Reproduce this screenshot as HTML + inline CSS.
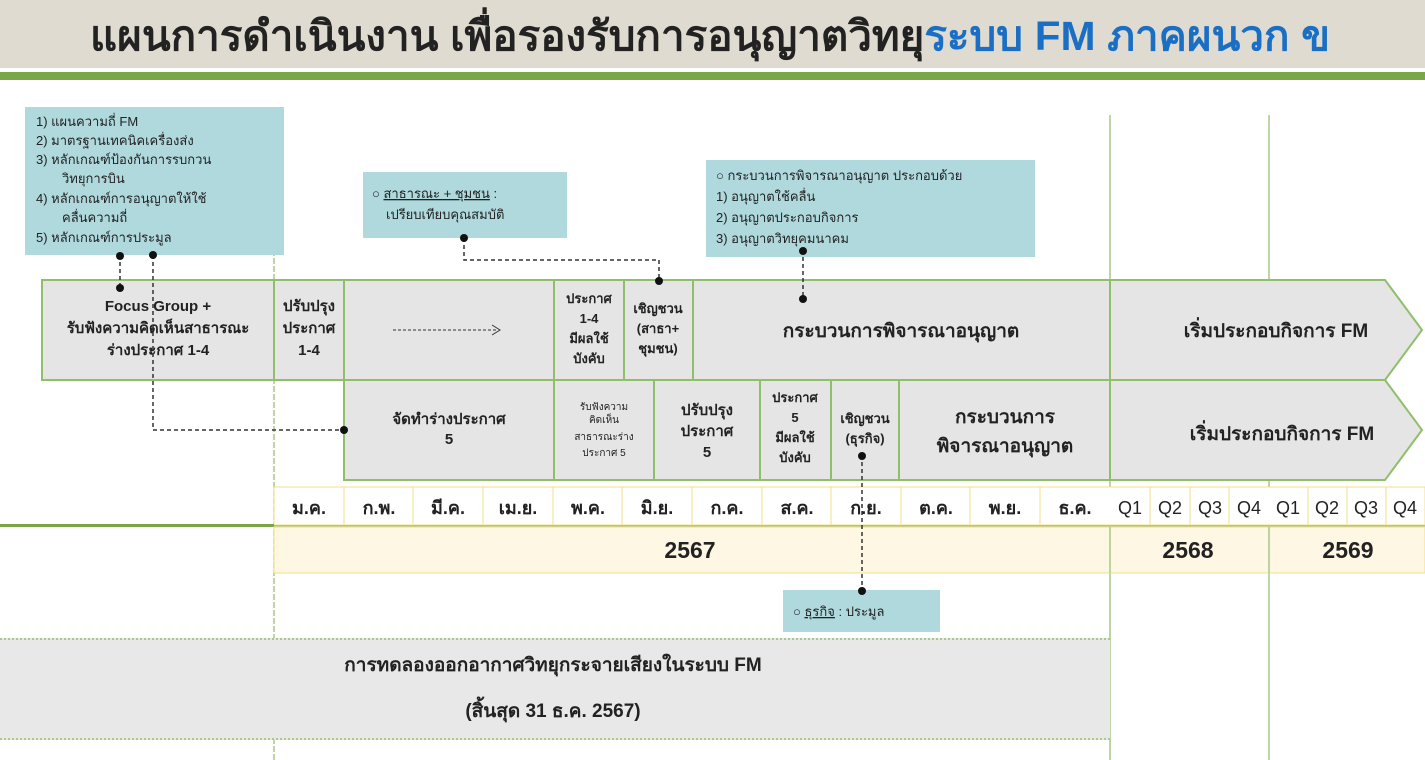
<!DOCTYPE html>
<html><head><meta charset="utf-8"><style>
html,body{margin:0;padding:0;background:#fff;width:1425px;height:760px;overflow:hidden}
svg{display:block}
text{font-family:"Liberation Sans","DejaVu Sans",sans-serif;fill:#222}
.b{font-weight:bold}
</style></head><body>
<svg width="1425" height="760" viewBox="0 0 1425 760" xmlns="http://www.w3.org/2000/svg">
<rect x="0" y="0" width="1425" height="68" fill="#dfdbd0"/>
<rect x="0" y="72" width="1425" height="8" fill="#7aa64a"/>
<text x="710" y="50" text-anchor="middle" font-size="41" style="font-weight:900" textLength="1240" lengthAdjust="spacingAndGlyphs"><tspan fill="#222">แผนการดำเนินงาน เพื่อรองรับการอนุญาตวิทยุ</tspan><tspan fill="#1a6fc4">ระบบ FM ภาคผนวก ข</tspan></text>

<!-- vertical lines -->
<line x1="274" y1="250" x2="274" y2="760" stroke="#a9c98a" stroke-width="1.5" stroke-dasharray="6,2"/>
<line x1="1110" y1="115" x2="1110" y2="760" stroke="#a9c98a" stroke-width="1.5"/>
<line x1="1269" y1="115" x2="1269" y2="760" stroke="#a9c98a" stroke-width="1.5"/>

<!-- callouts -->
<rect x="25" y="107" width="259" height="148" fill="#b0d9de"/>
<g font-size="13">
<text x="36" y="126">1)  แผนความถี่ FM</text>
<text x="36" y="145">2)  มาตรฐานเทคนิคเครื่องส่ง</text>
<text x="36" y="164">3)  หลักเกณฑ์ป้องกันการรบกวน</text>
<text x="62" y="183">วิทยุการบิน</text>
<text x="36" y="203">4)  หลักเกณฑ์การอนุญาตให้ใช้</text>
<text x="62" y="222">คลื่นความถี่</text>
<text x="36" y="242">5)  หลักเกณฑ์การประมูล</text>
</g>
<rect x="363" y="172" width="204" height="66" fill="#b0d9de"/>
<text x="372" y="198" font-size="13">○ <tspan text-decoration="underline">สาธารณะ + ชุมชน</tspan> :</text>
<text x="386" y="219" font-size="13">เปรียบเทียบคุณสมบัติ</text>
<rect x="706" y="160" width="329" height="97" fill="#b0d9de"/>
<g font-size="13">
<text x="716" y="180">○ กระบวนการพิจารณาอนุญาต ประกอบด้วย</text>
<text x="716" y="201">1)  อนุญาตใช้คลื่น</text>
<text x="716" y="222">2)  อนุญาตประกอบกิจการ</text>
<text x="716" y="243">3)  อนุญาตวิทยุคมนาคม</text>
</g>
<rect x="783" y="590" width="157" height="42" fill="#b0d9de"/>
<text x="793" y="616" font-size="13">○ <tspan text-decoration="underline">ธุรกิจ</tspan> : ประมูล</text>

<!-- rows -->
<g fill="#e5e5e5" stroke="#8fbf6a" stroke-width="2">
<rect x="42" y="280" width="232" height="100"/>
<rect x="274" y="280" width="70" height="100"/>
<rect x="344" y="280" width="210" height="100"/>
<rect x="554" y="280" width="70" height="100"/>
<rect x="624" y="280" width="69" height="100"/>
<rect x="693" y="280" width="417" height="100"/>
<polygon points="1110,280 1385,280 1422,330 1385,380 1110,380"/>
<rect x="344" y="380" width="210" height="100"/>
<rect x="554" y="380" width="100" height="100"/>
<rect x="654" y="380" width="106" height="100"/>
<rect x="760" y="380" width="71" height="100"/>
<rect x="831" y="380" width="68" height="100"/>
<rect x="899" y="380" width="211" height="100"/>
<polygon points="1110,380 1385,380 1422,430 1385,480 1110,480"/>
</g>
<g font-size="15" text-anchor="middle" class="b">
<text x="158" y="311">Focus Group +</text>
<text x="158" y="333">รับฟังความคิดเห็นสาธารณะ</text>
<text x="158" y="355">ร่างประกาศ 1-4</text>
<text x="309" y="311">ปรับปรุง</text>
<text x="309" y="333">ประกาศ</text>
<text x="309" y="355">1-4</text>
<text x="589" y="303" font-size="13">ประกาศ</text>
<text x="589" y="323" font-size="13">1-4</text>
<text x="589" y="343" font-size="13">มีผลใช้</text>
<text x="589" y="363" font-size="13">บังคับ</text>
<text x="658" y="313" font-size="13">เชิญชวน</text>
<text x="658" y="333" font-size="13">(สาธา+</text>
<text x="658" y="353" font-size="13">ชุมชน)</text>
<text x="901" y="337" font-size="19">กระบวนการพิจารณาอนุญาต</text>
<text x="1276" y="337" font-size="19">เริ่มประกอบกิจการ FM</text>
<text x="449" y="424">จัดทำร่างประกาศ</text>
<text x="449" y="444">5</text>
<text x="604" y="410" font-size="10" style="font-weight:normal">รับฟังความ</text>
<text x="604" y="423" font-size="10" style="font-weight:normal">คิดเห็น</text>
<text x="604" y="440" font-size="10" style="font-weight:normal">สาธารณะร่าง</text>
<text x="604" y="456" font-size="10" style="font-weight:normal">ประกาศ 5</text>
<text x="707" y="415">ปรับปรุง</text>
<text x="707" y="436">ประกาศ</text>
<text x="707" y="457">5</text>
<text x="795" y="402" font-size="13">ประกาศ</text>
<text x="795" y="422" font-size="13">5</text>
<text x="795" y="442" font-size="13">มีผลใช้</text>
<text x="795" y="462" font-size="13">บังคับ</text>
<text x="865" y="423" font-size="13">เชิญชวน</text>
<text x="865" y="443" font-size="13">(ธุรกิจ)</text>
<text x="1005" y="423" font-size="19">กระบวนการ</text>
<text x="1005" y="452" font-size="19">พิจารณาอนุญาต</text>
<text x="1282" y="440" font-size="19">เริ่มประกอบกิจการ FM</text>
</g>
<line x1="393" y1="330" x2="498" y2="330" stroke="#333" stroke-dasharray="3,2"/>
<polyline points="492,325 500,330 492,335" fill="none" stroke="#333"/>

<!-- month row -->
<rect x="274" y="487" width="1151" height="38" fill="#fff" stroke="#f3dd8a"/>
<g stroke="#f3dd8a">
<line x1="344" y1="487" x2="344" y2="525"/><line x1="413" y1="487" x2="413" y2="525"/><line x1="483" y1="487" x2="483" y2="525"/><line x1="553" y1="487" x2="553" y2="525"/><line x1="622" y1="487" x2="622" y2="525"/><line x1="692" y1="487" x2="692" y2="525"/><line x1="762" y1="487" x2="762" y2="525"/><line x1="831" y1="487" x2="831" y2="525"/><line x1="901" y1="487" x2="901" y2="525"/><line x1="970" y1="487" x2="970" y2="525"/><line x1="1040" y1="487" x2="1040" y2="525"/>
<line x1="1150" y1="487" x2="1150" y2="525"/><line x1="1190" y1="487" x2="1190" y2="525"/><line x1="1229" y1="487" x2="1229" y2="525"/>
<line x1="1308" y1="487" x2="1308" y2="525"/><line x1="1347" y1="487" x2="1347" y2="525"/><line x1="1386" y1="487" x2="1386" y2="525"/>
</g>
<g font-size="18" text-anchor="middle" class="b">
<text x="309" y="514">ม.ค.</text><text x="379" y="514">ก.พ.</text><text x="448" y="514">มี.ค.</text><text x="518" y="514">เม.ย.</text><text x="588" y="514">พ.ค.</text><text x="657" y="514">มิ.ย.</text><text x="727" y="514">ก.ค.</text><text x="797" y="514">ส.ค.</text><text x="866" y="514">ก.ย.</text><text x="936" y="514">ต.ค.</text><text x="1005" y="514">พ.ย.</text><text x="1075" y="514">ธ.ค.</text>
<text x="1130" y="514" style="font-weight:normal">Q1</text><text x="1170" y="514" style="font-weight:normal">Q2</text><text x="1210" y="514" style="font-weight:normal">Q3</text><text x="1249" y="514" style="font-weight:normal">Q4</text>
<text x="1288" y="514" style="font-weight:normal">Q1</text><text x="1327" y="514" style="font-weight:normal">Q2</text><text x="1366" y="514" style="font-weight:normal">Q3</text><text x="1405" y="514" style="font-weight:normal">Q4</text>
</g>
<rect x="0" y="524" width="274" height="3" fill="#7aa64a"/>
<rect x="274" y="525" width="1151" height="2" fill="#a9c98a"/>
<rect x="274" y="527" width="1151" height="46" fill="#fdf7e3" stroke="#f3dd8a"/>
<line x1="1110" y1="527" x2="1110" y2="573" stroke="#a9c98a" stroke-width="1.5"/>
<line x1="1269" y1="527" x2="1269" y2="573" stroke="#a9c98a" stroke-width="1.5"/>
<g font-size="23" text-anchor="middle" class="b">
<text x="690" y="558">2567</text><text x="1188" y="558">2568</text><text x="1348" y="558">2569</text>
</g>

<!-- bottom box -->
<rect x="0" y="638" width="1110" height="102" fill="#e8e8e8"/>
<line x1="0" y1="639" x2="1110" y2="639" stroke="#a9c98a" stroke-width="2" stroke-dasharray="2,2"/>
<line x1="0" y1="739" x2="1110" y2="739" stroke="#a9c98a" stroke-width="2" stroke-dasharray="2,2"/>
<text x="553" y="671" font-size="19" text-anchor="middle" class="b">การทดลองออกอากาศวิทยุกระจายเสียงในระบบ FM</text>
<text x="553" y="717" font-size="19" text-anchor="middle" class="b">(สิ้นสุด 31 ธ.ค. 2567)</text>

<!-- connectors -->
<g fill="none" stroke="#333" stroke-width="1.5" stroke-dasharray="4,3">
<polyline points="120,255 120,288"/>
<polyline points="153,255 153,430 344,430"/>
<polyline points="464,238 464,260 659,260 659,281"/>
<polyline points="803,250 803,299"/>
<polyline points="862,455 862,592"/>
</g>
<g fill="#111">
<circle cx="120" cy="256" r="4"/><circle cx="120" cy="288" r="4"/>
<circle cx="153" cy="255" r="4"/><circle cx="344" cy="430" r="4"/>
<circle cx="464" cy="238" r="4"/><circle cx="659" cy="281" r="4"/>
<circle cx="803" cy="251" r="4"/><circle cx="803" cy="299" r="4"/>
<circle cx="862" cy="456" r="4"/><circle cx="862" cy="591" r="4"/>
</g>
</svg>
</body></html>
